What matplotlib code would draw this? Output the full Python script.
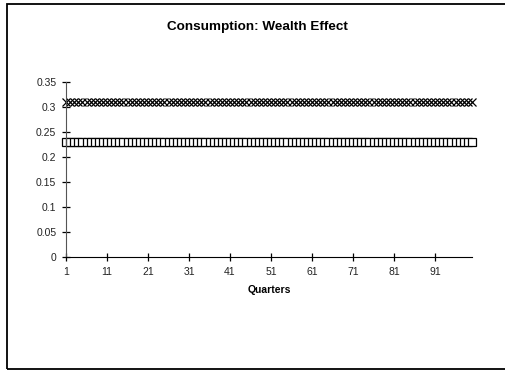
import numpy as np
import matplotlib
matplotlib.use("Agg")
import matplotlib.pyplot as plt
from matplotlib.patches import Rectangle

plt.rcParams['font.family'] = ['Liberation Sans', 'DejaVu Sans']

quarters = np.arange(1, 101)
series_x = [0.31] * 100        # upper series (x markers)
series_sq = [0.23] * 100       # lower series (square markers)
x_ticks = [1, 11, 21, 31, 41, 51, 61, 71, 81, 91]
y_ticks = [0, 0.05, 0.1, 0.15, 0.2, 0.25, 0.3, 0.35]
y_labels = ['0', '0.05', '0.1', '0.15', '0.2', '0.25', '0.3', '0.35']

fig = plt.figure(figsize=(5.05, 3.70), dpi=100)
ax = fig.add_axes([66/505, 1 - 257/370, (472 - 66)/505, (257 - 82)/370])

ax.plot(quarters, series_x, linestyle='none', marker='x', markersize=6,
        markeredgewidth=0.9, color='black', clip_on=False)
ax.plot(quarters, series_sq, linestyle='none', marker='s', markersize=6,
        markeredgewidth=0.9, markerfacecolor='white', markeredgecolor='black',
        clip_on=False)

ax.set_xlim(1, 100)
ax.set_ylim(0, 0.35)
ax.set_xticks(x_ticks)
ax.set_yticks(y_ticks)
ax.set_yticklabels(y_labels)
ax.spines['top'].set_visible(False)
ax.spines['right'].set_visible(False)
ax.spines['left'].set_color('#555555')
ax.tick_params(direction='inout', length=6, width=0.9, labelsize=7.5, pad=4,
               labelcolor='#222222')
ax.set_xlabel('Quarters', fontsize=7.5, fontweight='bold', labelpad=6)

fig.text(257/505, 1 - 27/370, 'Consumption: Wealth Effect', ha='center', va='center',
         fontsize=9.7, fontweight='bold')

fig.patches.append(Rectangle((6.5/505, 1 - 368.5/370), 530/505, 365/370,
                             transform=fig.transFigure, fill=False,
                             edgecolor='black', linewidth=1.3))

fig.savefig('out.png', dpi=100)
